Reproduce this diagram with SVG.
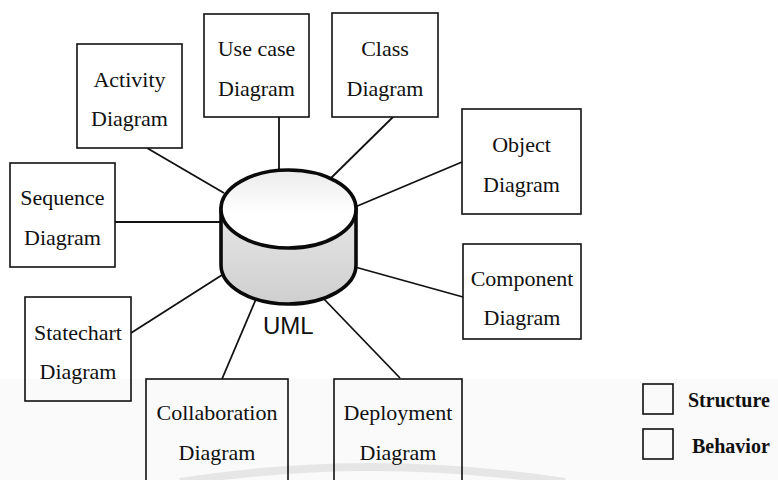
<svg xmlns="http://www.w3.org/2000/svg" width="778" height="480" viewBox="0 0 778 480">
  <style>
    .box { fill: #ffffff; stroke: #111111; stroke-width: 1.6; }
    .lbl { font-family: "Liberation Serif", "Times New Roman", serif; font-size: 22px; fill: #111111; text-anchor: middle; }
    .leg { font-family: "Liberation Serif", "Times New Roman", serif; font-size: 20px; font-weight: bold; fill: #111111; }
    .conn { stroke: #111111; stroke-width: 1.8; fill: none; }
    .cyl { stroke: #0a0a0a; stroke-width: 3.6; }
  </style>
  <defs>
    <linearGradient id="sideFill" x1="0" y1="0" x2="0" y2="1">
      <stop offset="0" stop-color="#e6e6e6"/>
      <stop offset="1" stop-color="#cfcfcf"/>
    </linearGradient>
    <linearGradient id="topFill" x1="0" y1="0" x2="0" y2="1">
      <stop offset="0" stop-color="#ebebeb"/>
      <stop offset="0.55" stop-color="#ffffff"/>
      <stop offset="1" stop-color="#ffffff"/>
    </linearGradient>
  </defs>

  <rect width="778" height="480" fill="#ffffff"/>

  <!-- connectors from the central repository to each diagram -->
  <g id="connectors">
    <line class="conn" x1="279" y1="117" x2="279" y2="171"/>
    <line class="conn" x1="393" y1="117" x2="330" y2="179"/>
    <line class="conn" x1="147" y1="148" x2="224" y2="193"/>
    <line class="conn" x1="115" y1="222" x2="221" y2="222"/>
    <line class="conn" x1="131" y1="333" x2="222" y2="275"/>
    <line class="conn" x1="462" y1="162" x2="355" y2="207"/>
    <line class="conn" x1="463" y1="297" x2="355" y2="267"/>
    <line class="conn" x1="222" y1="379" x2="256" y2="299"/>
    <line class="conn" x1="400" y1="378" x2="323" y2="298"/>
  </g>

  <!-- central UML repository (cylinder) -->
  <g id="uml">
    <path class="cyl" d="M 221 209 L 221 265 A 67.5 39 0 0 0 356 265 L 356 209 Z" fill="url(#sideFill)"/>
    <ellipse class="cyl" cx="288.5" cy="209" rx="67.5" ry="39" fill="url(#topFill)"/>
    <text x="263" y="334" font-family="'Liberation Sans', Arial, sans-serif" font-size="24" fill="#111111">UML</text>
  </g>

  <g id="activity">
    <rect class="box" x="77" y="44" width="105" height="104"/>
    <text class="lbl" x="129.5" y="87">Activity</text>
    <text class="lbl" x="129.5" y="126">Diagram</text>
  </g>

  <g id="usecase">
    <rect class="box" x="204" y="14" width="105" height="103"/>
    <text class="lbl" x="256.5" y="56">Use case</text>
    <text class="lbl" x="256.5" y="96">Diagram</text>
  </g>

  <g id="class">
    <rect class="box" x="332" y="13" width="106" height="104"/>
    <text class="lbl" x="385" y="56">Class</text>
    <text class="lbl" x="385" y="96">Diagram</text>
  </g>

  <g id="object">
    <rect class="box" x="462" y="109" width="119" height="105"/>
    <text class="lbl" x="521.5" y="152">Object</text>
    <text class="lbl" x="521.5" y="192">Diagram</text>
  </g>

  <g id="component">
    <rect class="box" x="463" y="244" width="118" height="95"/>
    <text class="lbl" x="522" y="286">Component</text>
    <text class="lbl" x="522" y="325">Diagram</text>
  </g>

  <g id="sequence">
    <rect class="box" x="10" y="163" width="105" height="104"/>
    <text class="lbl" x="62.5" y="205">Sequence</text>
    <text class="lbl" x="62.5" y="245">Diagram</text>
  </g>

  <g id="statechart">
    <rect class="box" x="25" y="297" width="106" height="104"/>
    <text class="lbl" x="78" y="340">Statechart</text>
    <text class="lbl" x="78" y="379">Diagram</text>
  </g>

  <g id="collaboration">
    <rect class="box" x="146" y="379" width="142" height="110"/>
    <text class="lbl" x="217" y="420">Collaboration</text>
    <text class="lbl" x="217" y="460">Diagram</text>
  </g>

  <g id="deployment">
    <rect class="box" x="334" y="379" width="128" height="110"/>
    <text class="lbl" x="398" y="420">Deployment</text>
    <text class="lbl" x="398" y="460">Diagram</text>
  </g>

  <!-- legend -->
  <g id="legend">
    <rect class="box" x="643" y="384" width="30" height="30" stroke-width="1.3"/>
    <text class="leg" x="688" y="407">Structure</text>
    <rect class="box" x="643" y="429" width="30" height="30" stroke-width="1.3"/>
    <text class="leg" x="692" y="453">Behavior</text>
  </g>

  <!-- faint grey wash and arc over the lower strip -->
  <rect x="0" y="379" width="778" height="101" fill="#000000" fill-opacity="0.018"/>
  <path d="M 180 482 Q 370 452 565 482" fill="none" stroke="#000000" stroke-opacity="0.08" stroke-width="8"/>
</svg>
